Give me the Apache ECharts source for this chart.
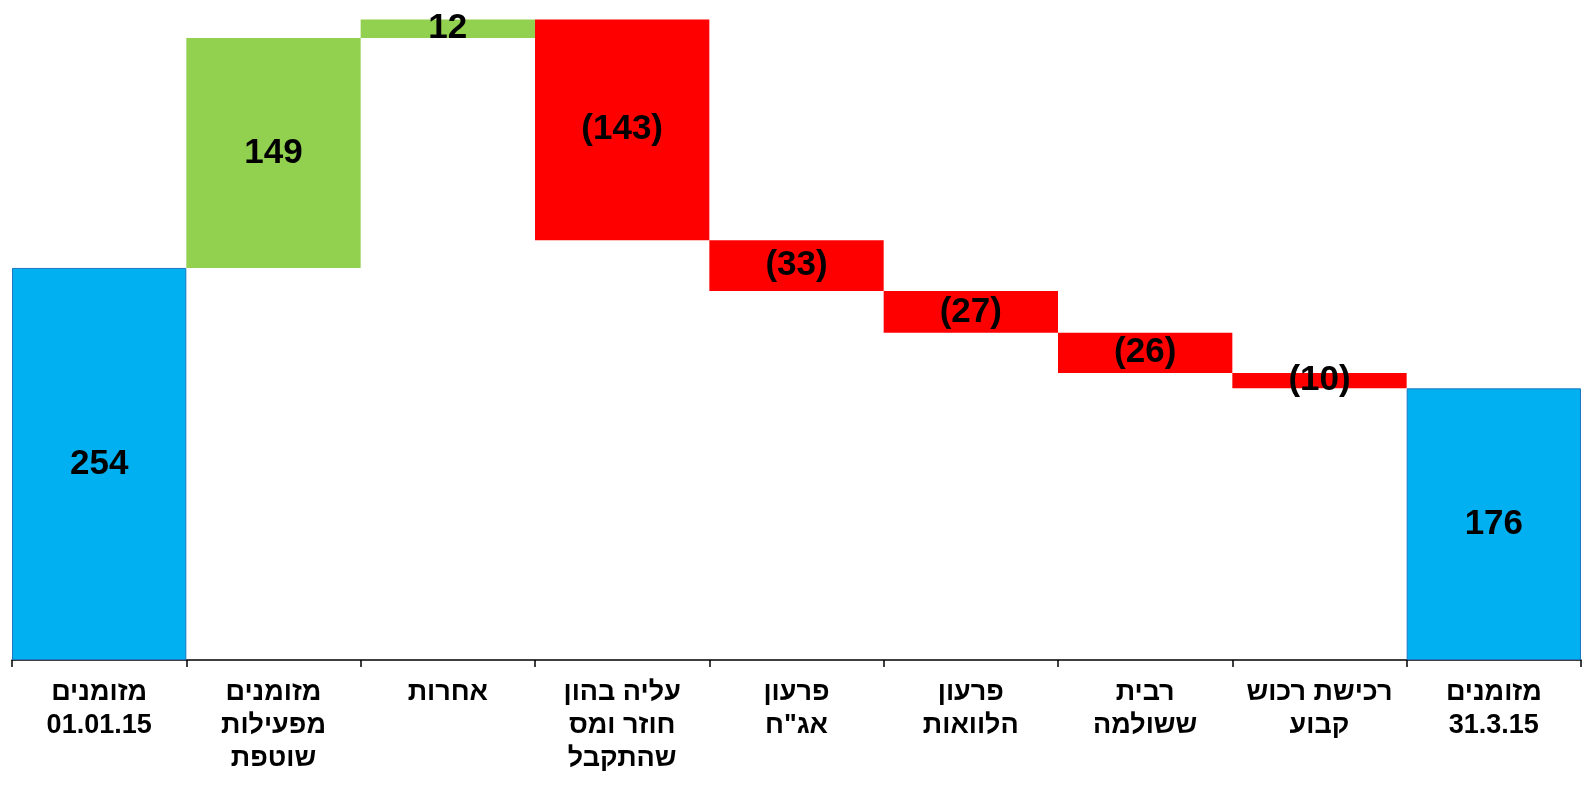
<!DOCTYPE html>
<html>
<head>
<meta charset="utf-8">
<script src="https://cdn.jsdelivr.net/npm/echarts@6/dist/echarts.min.js"></script>
<style>html,body{margin:0;padding:0;background:#fff}#c{width:1592px;height:785px}</style>
</head>
<body>
<div id="c"></div>
<script>
const categories = ['מזומנים\n01.01.15','מזומנים\nמפעילות\nשוטפת','אחרות','עליה בהון\nחוזר ומס\nשהתקבל','פרעון\nאג"ח','פרעון\nהלוואות','רבית\nששולמה','רכישת רכוש\nקבוע','מזומנים\n31.3.15'];
const changes = [254, 149, 12, -143, -33, -27, -26, -10, 176];
const isTotal = [true, false, false, false, false, false, false, false, true];

const base = [], height = [];
let run = 0;
changes.forEach((v, i) => {
  if (isTotal[i]) { base.push(0); height.push(v); run = v; }
  else if (v >= 0) { base.push(run); height.push(v); run += v; }
  else { run += v; base.push(run); height.push(-v); }
});

const colorFor = i => isTotal[i] ? '#00B0F0' : (changes[i] >= 0 ? '#92D050' : '#FF0000');

const chart = echarts.init(document.getElementById('c'));
chart.setOption({
  animation: false,
  grid: { left: 12, right: 11, top: 4, bottom: 125 },
  xAxis: {
    type: 'category',
    data: categories,
    axisLine: { lineStyle: { color: '#000', width: 1.5 } },
    axisTick: { show: true, length: 7, lineStyle: { color: '#000', width: 1.5 } },
    axisLabel: { color: '#000', fontFamily: 'Liberation Sans, Arial', fontWeight: 'bold', fontSize: 27, lineHeight: 33, margin: 16, interval: 0 }
  },
  yAxis: { type: 'value', min: 0, max: 425, show: false, splitLine: { show: false } },
  series: [
    { type: 'bar', stack: 'w', data: base, itemStyle: { color: 'transparent' }, barCategoryGap: '0%', silent: true },
    {
      type: 'bar', stack: 'w', barCategoryGap: '0%',
      data: height.map((h, i) => ({
        value: h,
        itemStyle: isTotal[i] ? { color: colorFor(i), borderColor: '#1a78c2', borderWidth: 1 } : { color: colorFor(i) }
      })),
      label: {
        show: true, position: 'inside', color: '#000',
        fontFamily: 'Liberation Sans, Arial', fontWeight: 'bold', fontSize: 35,
        formatter: p => changes[p.dataIndex] < 0 ? '(' + (-changes[p.dataIndex]) + ')' : String(changes[p.dataIndex])
      }
    }
  ]
});
</script>
</body>
</html>
